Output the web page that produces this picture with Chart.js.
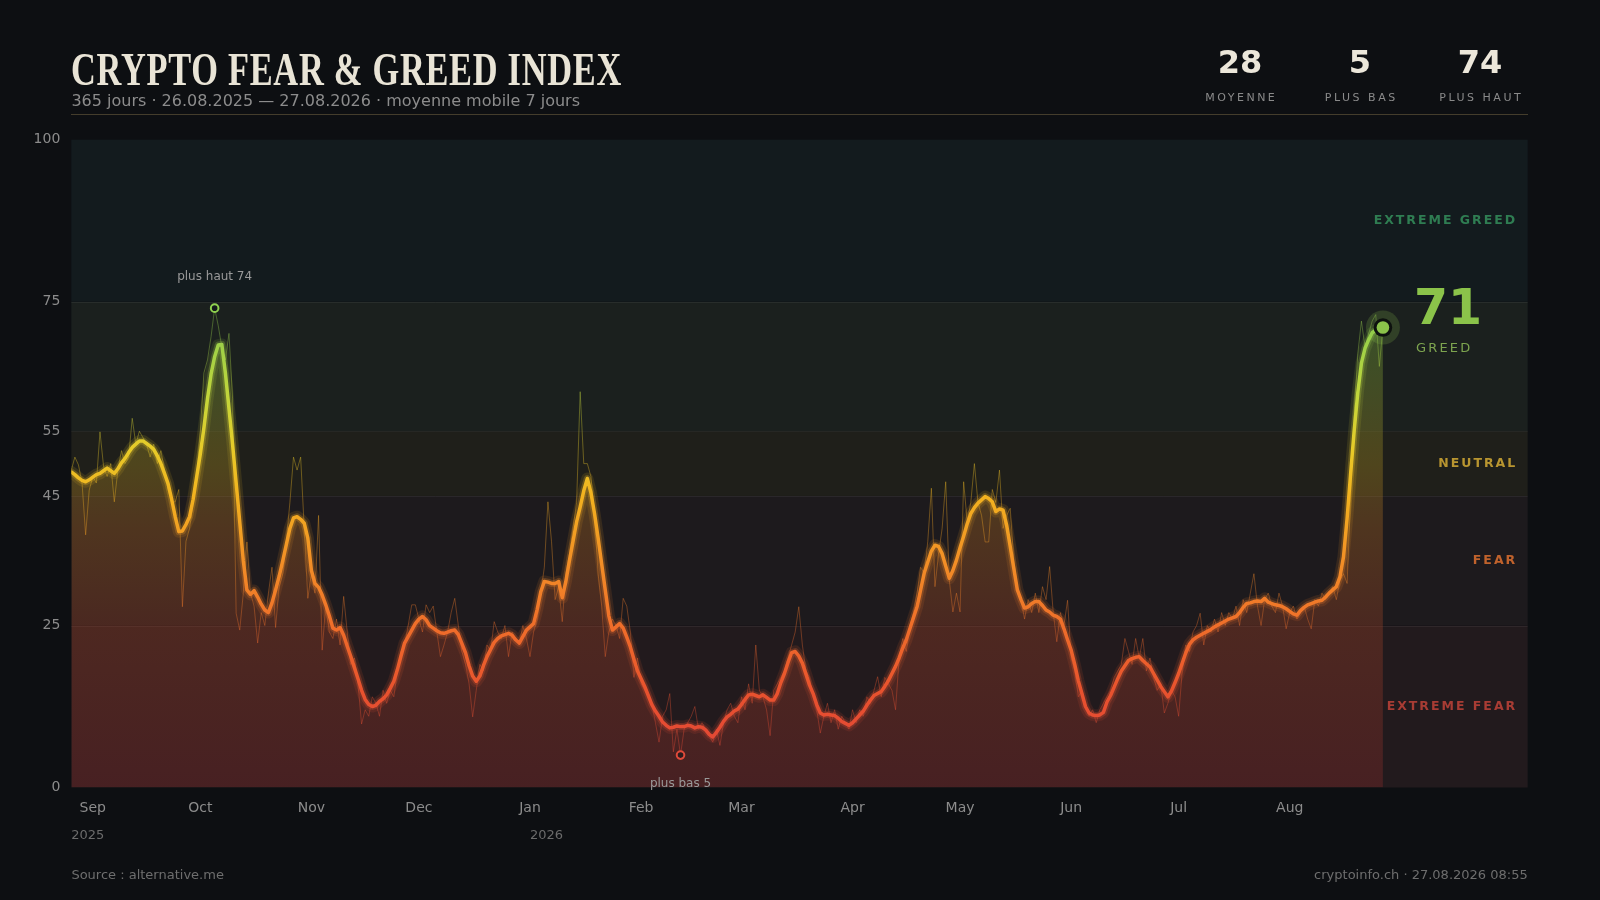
<!DOCTYPE html>
<html><head><meta charset="utf-8">
<script src="https://cdn.jsdelivr.net/npm/chart.js@4.4.1/dist/chart.umd.min.js"></script>
<style>
html,body{margin:0;padding:0;background:#0d0f12;width:1600px;height:900px;overflow:hidden;font-family:'DejaVu Sans',sans-serif;}
#wrap{position:relative;width:1600px;height:900px;}
canvas{position:absolute;left:0;top:0;}
.abs{position:absolute;white-space:nowrap;}
#title{left:71.4px;top:46px;font-family:'Liberation Serif',serif;font-weight:bold;font-size:47px;line-height:47px;color:#e9e4d6;transform-origin:0 0;letter-spacing:1px;}
#sub{left:71.4px;top:92.5px;font-size:16px;line-height:16px;color:#8c8c8c;}
#rule{left:71px;top:113.5px;width:1457px;height:1.5px;background:#443d2c;}
.stat{width:120px;text-align:center;}
.num{font-weight:bold;font-size:32px;line-height:32px;color:#ece7da;top:46.4px;}
.lab{font-size:11px;line-height:11px;letter-spacing:2.5px;text-indent:2.5px;color:#8a8a8a;top:91.7px;}
.foot{font-size:13px;line-height:13px;color:#6e6e6e;top:868px;}
</style></head>
<body><div id="wrap">
<canvas id="c" width="1600" height="900"></canvas>
<div id="title" class="abs">CRYPTO FEAR &amp; GREED INDEX</div>
<div id="sub" class="abs">365 jours · 26.08.2025 — 27.08.2026 · moyenne mobile 7 jours</div>
<div id="rule" class="abs"></div>
<div id="stats"></div>
<div class="abs foot" style="left:71.4px;">Source : alternative.me</div>
<div class="abs foot" style="right:72.3px;text-align:right;">cryptoinfo.ch · 27.08.2026 08:55</div>
</div>
<script>
// ---------- DATA ----------
// Day offset of the first value (0 = 26.08.2025)
const startDay = 0;
// 7-day moving average, one value per day
const maValues = [
48.7,48.3,47.8,47.4,47.2,47.5,47.9,48.3,48.5,48.9,
49.3,48.9,48.5,49.2,50.1,50.8,51.7,52.5,53.0,53.5,
53.5,53.1,52.7,52.2,51.2,50.0,48.5,46.9,44.5,41.8,
39.5,39.6,40.6,41.8,44.5,48.0,51.5,55.5,60.0,63.8,
66.5,68.3,68.4,64.0,58.5,53.0,47.0,41.0,35.0,30.5,
29.8,30.4,29.4,28.3,27.4,27.0,28.5,30.5,32.6,35.0,
37.5,40.0,41.6,41.8,41.4,40.8,38.5,33.5,31.5,30.9,
29.7,28.2,26.5,24.6,24.3,24.7,23.5,21.8,20.2,18.5,
16.8,15.0,13.6,12.8,12.5,12.7,13.3,13.7,14.3,15.3,
16.4,18.2,20.3,22.3,23.3,24.3,25.3,26.0,26.4,25.9,
25.0,24.6,24.2,23.9,23.8,24.0,24.2,24.3,23.6,22.2,
20.8,18.8,17.2,16.4,17.2,18.8,20.2,21.3,22.4,23.0,
23.4,23.6,23.8,23.5,22.8,22.3,23.3,24.3,24.8,25.3,
27.5,30.2,31.8,31.7,31.5,31.5,31.8,29.3,31.8,35.0,
38.0,41.0,43.3,45.8,47.7,45.5,42.3,38.5,34.5,30.5,
26.5,24.3,24.8,25.3,24.6,23.2,21.7,19.8,18.0,16.8,
15.6,14.2,12.8,11.8,11.0,10.1,9.6,9.2,9.3,9.5,
9.4,9.4,9.6,9.5,9.2,9.4,9.3,8.9,8.2,7.8,
8.5,9.3,10.2,10.9,11.3,11.8,12.1,12.8,13.6,14.3,
14.4,14.2,14.0,14.3,13.9,13.5,13.5,14.5,16.2,17.6,
19.3,20.8,21.0,20.3,19.2,17.5,15.8,14.5,12.8,11.5,
11.2,11.3,11.2,11.1,10.7,10.2,9.9,9.6,10.0,10.6,
11.2,11.8,12.7,13.5,14.2,14.5,14.8,15.6,16.5,17.6,
18.7,20.0,21.5,22.8,24.5,26.2,27.9,30.5,33.1,34.8,
36.5,37.4,37.2,36.1,34.2,32.3,33.5,35.1,37.0,38.8,
40.7,42.3,43.2,43.9,44.4,44.9,44.6,44.1,42.6,43.0,
42.8,40.5,37.2,33.8,30.5,29.0,27.7,27.9,28.4,28.7,
28.7,28.1,27.4,27.1,26.6,26.4,26.0,24.5,22.8,21.2,
19.0,16.5,14.5,12.5,11.5,11.2,11.1,11.2,11.6,13.2,
14.2,15.5,16.8,18.0,18.8,19.6,19.9,20.1,20.2,19.6,
19.1,18.6,17.6,16.6,15.6,14.8,14.0,14.9,16.2,17.6,
19.2,20.8,22.1,22.8,23.2,23.5,23.8,24.1,24.4,24.8,
25.1,25.4,25.7,26.0,26.2,26.4,27.0,27.8,28.4,28.5,
28.7,28.8,28.7,29.2,28.6,28.4,28.2,28.1,27.9,27.6,
27.2,26.8,26.6,27.3,27.8,28.2,28.4,28.6,28.8,28.9,
29.4,30.0,30.5,31.0,32.5,35.6,41.5,48.5,55.2,61.0,
65.5,67.8,69.1,70.2,70.6,70.8,71.0
];
// Daily index values
const rawValues = [
49,51,49.8,47,39,45.9,48,47,54.9,49.6,
48,50,44.1,49,52,50,51,57,53,55,
54,53,51,53,50,52,49,46,44,44.1,
46,27.9,38,40,44,48,55,64,66,69.6,
74,71.3,68,66,70.1,60,26.9,24.3,30,37.9,
30,28,22.3,27,25,30,34,24.7,31,33,
38,44,51,49,51,40,29.2,33,30,42,
21.2,28,24,23,26,22,29.5,24,19,20,
16,9.8,12,11,14,13,11,15,13,15,
14,18,21,22,25,28.2,28.2,26,24,28.2,
27,28,24,20.2,22,24,27,29.2,25,21,
19,16,10.9,15,19,18,22,21,25.6,24,
23,25,20.2,24,23,22,25,23,20.2,24,
26,30,34,44.1,38,29,31,25.6,33,36,
40,44,61.1,50,50,48,42,33,28,20.2,
24,26,25,23,29.2,28,24,17,20,16,
15,14,13,10,7,11,12,14.5,5.5,9,
5,9,10,11,12.5,9,10,9,8,7,
9,6.5,10,12,13,11,10,14,12,16,
13,22,15,14,12,8,15,16,17,18,
20,22,24,27.9,22,18,17,14,12,8.4,
11,13,10,12,9,11,10,9,12,10,
12,11,14,13,15,17.1,14,17,16,15,
12,20,23,21,25,27,30,34,33,38,
46.2,31,36,40,47.2,32,27.1,30,27.1,47.2,
41,44,50,44,42,37.9,37.9,46,44,49,
40,42,43.1,35,31,29,26,29,27,30,
27,31,29,34.1,27,22.5,27,25,28.9,20,
18,14,15,13,11,12,10,12,13,14,
15,17,18,19,23,21,19,23,20,23,
18,20,17,15,16,11.5,13,15,14,11,
18,22,21,24,25,26.9,22,25,24,26,
24,27,25,27,26,28,25,29,27,30,
33,28,25,29,30,28,27,30,28,24.5,
27,28,26,27,28,26,24.5,29,28,30,
29,30,31,29,32,33,31.5,45,58,67,
72,68,70,72,73,65,71
];
// x-axis month ticks (day offsets) and labels
const monthTickDays = [6,36,67,97,128,159,187,218,248,279,309,340];
const monthLabels = ['Sep','Oct','Nov','Dec','Jan','Feb','Mar','Apr','May','Jun','Jul','Aug'];
const yearLabels = ['2025','2026'];
const yearLabelDays = [0,128];
// y-axis ticks & sentiment zones
const yTickValues = [0,25,45,55,75,100];
const zoneBounds = [0,25,45,55,75,100];
const zoneNames = ['EXTREME FEAR','FEAR','NEUTRAL','GREED','EXTREME GREED'];
const currentZoneName = 'GREED';
// header stats
const statValues = [28,5,74];
const statLabels = ['MOYENNE','PLUS BAS','PLUS HAUT'];

// ---------- STYLE ----------
const xMax = 406.4;
const zoneBg = ['#221a1d','#1d1a1d','#1f1f1a','#1b201e','#131b1e'];
const zoneText = ['#a83c34','#c0622c','#b89530',null,'#2f7d52'];
const lineStops = [[0,'#e0403a'],[15,'#e8522e'],[25,'#ef6e2a'],[35,'#f28f26'],[45,'#f2b21f'],[52,'#e8ca28'],[60,'#c4d63a'],[70,'#96cf4a'],[100,'#7cc652']];
const fillStops = [[0,'#962d2d'],[25,'#aa4628'],[40,'#b96e23'],[50,'#b49623'],[65,'#8caf37'],[75,'#6eb446'],[100,'#6eb446']];

function rgba(hex,a){const n=parseInt(hex.slice(1),16);return `rgba(${n>>16&255},${n>>8&255},${n&255},${a})`;}
function vGrad(chart,stops,alpha){
  const {ctx,chartArea,scales}=chart; if(!chartArea) return null;
  const y=scales.y; const top=y.getPixelForValue(100), bot=y.getPixelForValue(0);
  const g=ctx.createLinearGradient(0,bot,0,top);
  stops.forEach(([v,c])=>g.addColorStop(v/100,rgba(c,alpha)));
  return g;
}

// header stats
const statsEl=document.getElementById('stats');
const statCenters=[1240,1360,1480];
statValues.forEach((v,i)=>{
  const n=document.createElement('div'); n.className='abs stat num'; n.style.left=(statCenters[i]-60)+'px'; n.textContent=v; statsEl.appendChild(n);
  const l=document.createElement('div'); l.className='abs stat lab'; l.style.left=(statCenters[i]-60)+'px'; l.textContent=statLabels[i]; statsEl.appendChild(l);
});
// fit title width
const t=document.getElementById('title');
const tw=t.getBoundingClientRect().width; t.style.transform=`scaleX(${551/tw})`;

const maPts = maValues.map((v,i)=>({x:startDay+i,y:v}));
const rawPts = rawValues.map((v,i)=>({x:startDay+i,y:v}));

const zonesPlugin={id:'zones',beforeDatasetsDraw(chart){
  const {ctx,chartArea:a,scales:{y}}=chart; ctx.save();
  for(let i=0;i<zoneNames.length;i++){
    const y1=y.getPixelForValue(zoneBounds[i+1]), y0=y.getPixelForValue(zoneBounds[i]);
    ctx.fillStyle=zoneBg[i]; ctx.fillRect(a.left,y1,a.right-a.left,y0-y1);
  }
  ctx.strokeStyle='rgba(255,255,255,0.06)'; ctx.lineWidth=1;
  zoneBounds.slice(1,-1).forEach(v=>{const py=Math.round(y.getPixelForValue(v))+0.5;ctx.beginPath();ctx.moveTo(a.left,py);ctx.lineTo(a.right,py);ctx.stroke();});
  ctx.restore();
}};

const annotPlugin={id:'annot',afterDatasetsDraw(chart){
  const {ctx,chartArea:a,scales:{x,y}}=chart; ctx.save();
  // zone labels
  ctx.font='bold 12.5px "DejaVu Sans"'; ctx.textAlign='right'; ctx.textBaseline='middle';
  try{ctx.letterSpacing='2px';}catch(e){}
  zoneNames.forEach((nm,i)=>{ if(nm===currentZoneName||!zoneText[i]) return;
    ctx.fillStyle=zoneText[i];
    ctx.fillText(nm,a.right-12.5+2,y.getPixelForValue((zoneBounds[i]+zoneBounds[i+1])/2));
  });
  try{ctx.letterSpacing='0px';}catch(e){}
  // max / min markers
  const maxV=Math.max(...rawValues), maxI=rawValues.indexOf(maxV);
  const minV=Math.min(...rawValues), minI=rawValues.indexOf(minV);
  const mx=x.getPixelForValue(startDay+maxI), my=y.getPixelForValue(maxV);
  const nx=x.getPixelForValue(startDay+minI), ny=y.getPixelForValue(minV);
  ctx.lineWidth=2;
  ctx.beginPath();ctx.arc(mx,my,3.8,0,Math.PI*2);ctx.fillStyle='#151b1c';ctx.fill();ctx.strokeStyle='#8fd14f';ctx.stroke();
  ctx.beginPath();ctx.arc(nx,ny,3.8,0,Math.PI*2);ctx.fillStyle='#2a1c1e';ctx.fill();ctx.strokeStyle='#e04a3a';ctx.stroke();
  ctx.font='12px "DejaVu Sans"'; ctx.fillStyle='#9a9a9a'; ctx.textAlign='center'; ctx.textBaseline='middle';
  ctx.fillText('plus haut '+Math.round(maxV),mx,my-31);
  ctx.fillText('plus bas '+Math.round(minV),nx,ny+29);
  // last value marker
  const li=maValues.length-1, lv=maValues[li];
  const lx=x.getPixelForValue(startDay+li), ly=y.getPixelForValue(lv);
  ctx.beginPath();ctx.arc(lx,ly,17,0,Math.PI*2);ctx.fillStyle='rgba(139,195,74,0.2)';ctx.fill();
  ctx.beginPath();ctx.arc(lx,ly,9.3,0,Math.PI*2);ctx.fillStyle='#0e120f';ctx.fill();
  ctx.beginPath();ctx.arc(lx,ly,6.3,0,Math.PI*2);ctx.fillStyle='#8bc34a';ctx.fill();
  ctx.textAlign='left'; ctx.textBaseline='alphabetic';
  ctx.font='bold 49px "DejaVu Sans"'; ctx.fillStyle='#8bc34a';
  ctx.fillText(String(Math.round(lv)),lx+31,ly-4);
  ctx.font='13px "DejaVu Sans"'; ctx.fillStyle='#7da44f';
  try{ctx.letterSpacing='2.2px';}catch(e){}
  ctx.fillText(currentZoneName,lx+33,ly+24);
  try{ctx.letterSpacing='0px';}catch(e){}
  ctx.restore();
},afterDraw(chart){
  const {ctx,scales:{x}}=chart; ctx.save();
  ctx.font='13px "DejaVu Sans"'; ctx.fillStyle='#6b6b6b'; ctx.textAlign='left'; ctx.textBaseline='middle';
  yearLabels.forEach((lab,i)=>ctx.fillText(lab,x.getPixelForValue(yearLabelDays[i]),836));
  ctx.restore();
}};

Chart.defaults.font.family='"DejaVu Sans", sans-serif';
const base={pointRadius:0,pointHoverRadius:0,tension:0};
new Chart(document.getElementById('c'),{
  type:'line',
  data:{datasets:[
    {...base,label:'fill',data:maPts,borderWidth:0,fill:'origin',order:5,
      backgroundColor:c=>vGrad(c.chart,fillStops,0.32)},
    {...base,label:'raw',data:rawPts,borderWidth:1,fill:false,order:4,
      borderColor:c=>vGrad(c.chart,lineStops,0.38)},
    {...base,label:'glow1',data:maPts,borderWidth:12,fill:false,order:3,borderCapStyle:'round',borderJoinStyle:'round',
      borderColor:c=>vGrad(c.chart,lineStops,0.12)},
    {...base,label:'glow2',data:maPts,borderWidth:7,fill:false,order:2,borderCapStyle:'round',borderJoinStyle:'round',
      borderColor:c=>vGrad(c.chart,lineStops,0.25)},
    {...base,label:'ma',data:maPts,borderWidth:3.5,fill:false,order:1,borderCapStyle:'round',borderJoinStyle:'round',
      borderColor:c=>vGrad(c.chart,lineStops,1)}
  ]},
  options:{
    responsive:false,animation:false,devicePixelRatio:1,
    layout:{padding:{left:0,top:139.7,right:72.3,bottom:0}},
    plugins:{legend:{display:false},tooltip:{enabled:false}},
    events:[],
    scales:{
      x:{type:'linear',min:0,max:xMax,
        afterBuildTicks:s=>{s.ticks=monthTickDays.map(v=>({value:v}));},
        afterFit:s=>{s.height=112.5;},
        ticks:{callback:v=>monthLabels[monthTickDays.indexOf(v)],autoSkip:false,maxRotation:0,color:'#8c8c8c',font:{size:14},padding:12},
        grid:{display:false,drawTicks:false},border:{display:false}},
      y:{min:0,max:100,
        afterBuildTicks:s=>{s.ticks=yTickValues.map(v=>({value:v}));},
        afterFit:s=>{s.width=71.3;},
        ticks:{color:'#8c8c8c',font:{size:14},padding:11},
        grid:{display:false,drawTicks:false},border:{display:false}}
    }
  },
  plugins:[zonesPlugin,annotPlugin]
});
</script>
</body></html>
